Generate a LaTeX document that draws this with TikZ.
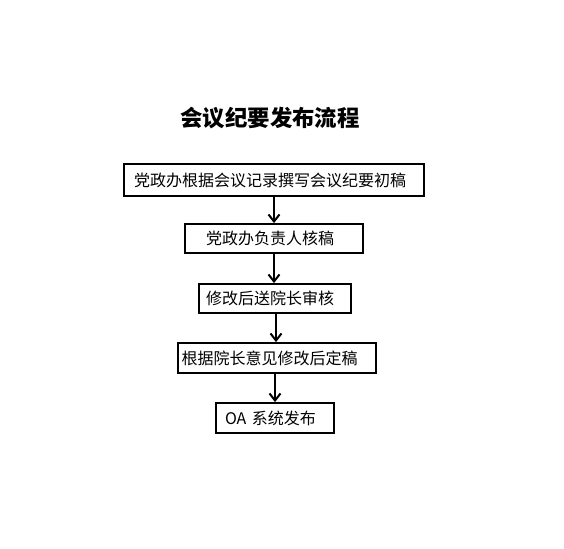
\documentclass[tikz,border=0pt]{standalone}
\usepackage{fontspec}
\newfontfamily\cjk{Noto Sans CJK SC}
\usetikzlibrary{arrows.meta}
\tikzset{
	stepbox/.style={draw,line width=1.8pt,align=left,inner ysep=0pt,font=\cjk\fontsize{16}{18}\selectfont},
	flow/.style={line width=2pt,-{Straight Barb[length=7pt,width=11pt,line width=2pt]}}
}
\begin{document}
\begin{tikzpicture}[x=1pt,y=1pt]
		\useasboundingbox (0,0) rectangle (564,-548);
		
		\node (title) at (270,-118) {\cjk\bfseries\fontsize{22.4}{26}\selectfont 会议纪要发布流程};
		\node[stepbox,inner xsep=10pt,text width=280pt,minimum height=32pt] (b1) at (274,-180) {党政办根据会议记录撰写会议纪要初稿};
		\node[stepbox,inner xsep=21pt,text width=136pt,minimum height=29pt] (b2) at (274,-238.5) {党政办负责人核稿};
		\node[stepbox,inner xsep=7pt,text width=138pt,minimum height=29pt] (b3) at (275,-298.5) {修改后送院长审核};
		\node[stepbox,inner xsep=3.5pt,text width=191pt,minimum height=30pt] (b4) at (277,-358) {根据院长意见修改后定稿};
		\node[stepbox,inner xsep=9pt,text width=100pt,minimum height=30pt] (b5) at (275,-418) {OA 系统发布};
		
		\draw[flow] (b1.south) -- (b1.south |- b2.north);
		\draw[flow] (b2.south) -- (b2.south |- b3.north);
		\draw[flow] (b3.south) ++(1,0) coordinate (c3) -- (c3 |- b4.north);
		\draw[flow] (b4.south) ++(-2,0) coordinate (c4) -- (c4 |- b5.north);
		\end{tikzpicture}
\end{document}
